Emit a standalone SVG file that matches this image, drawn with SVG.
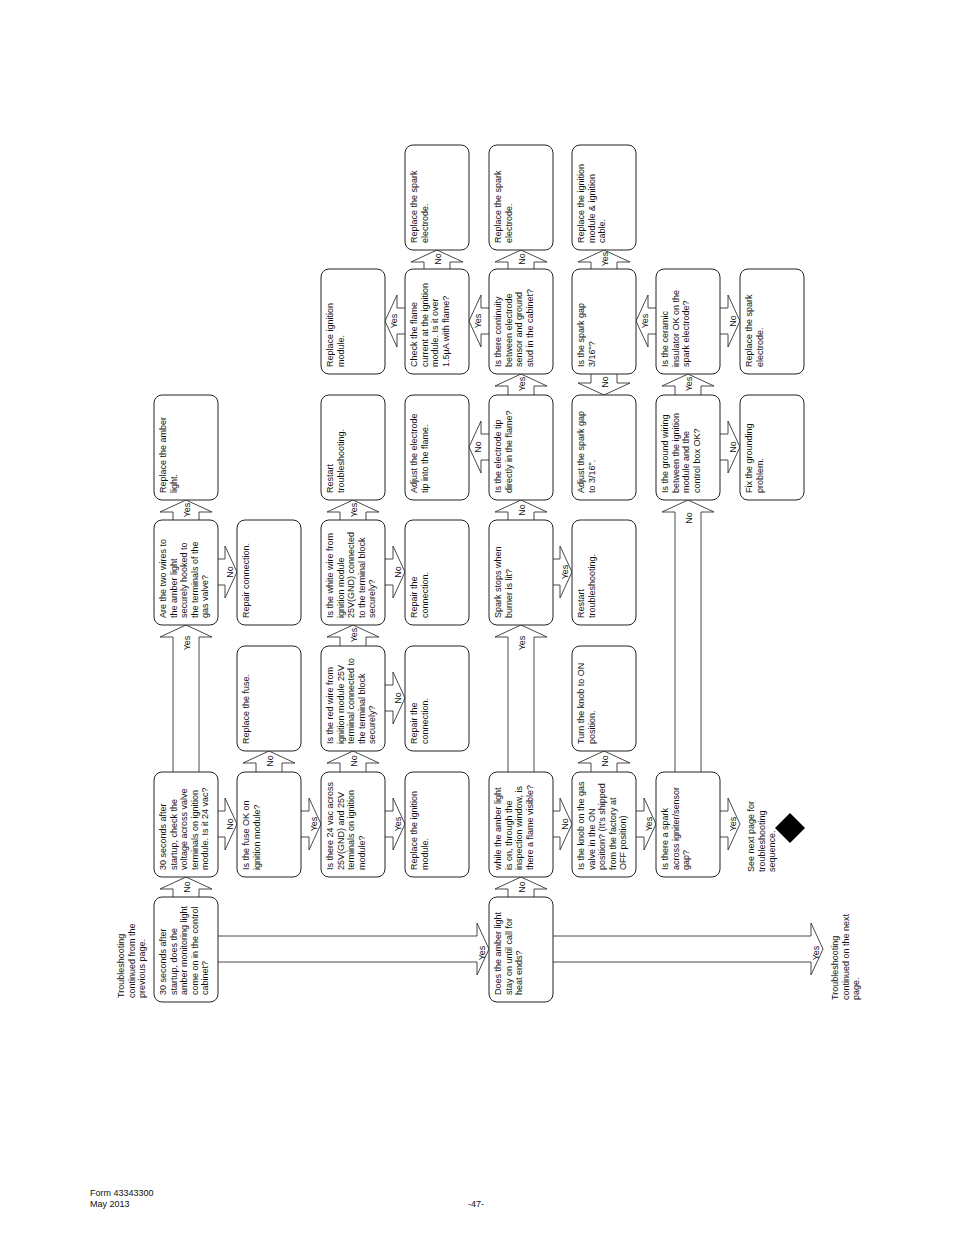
<svg xmlns="http://www.w3.org/2000/svg" width="954" height="1235" viewBox="0 0 954 1235">
<style>
text{font-family:"Liberation Sans",Arial,sans-serif;font-size:9px;fill:#111}
.box{fill:#fff;stroke:#222;stroke-width:1}
.ar{fill:#fff;stroke:#333;stroke-width:0.9}
.lb{text-anchor:middle}
</style>
<rect width="954" height="1235" fill="#fff"/>
<g id="connectors">
<path class="ar" d="M173 897V889H160L186 877L212 889H199V897"/>
<path class="ar" d="M173 772V637H160L186 625L212 637H199V772"/>
<path class="ar" d="M173 520V512H160L186 500L212 512H199V520"/>
<path class="ar" d="M256 772V763H243L269 751L295 763H282V772"/>
<path class="ar" d="M340 772V763H327L353 751L379 763H366V772"/>
<path class="ar" d="M340 646V637H327L353 625L379 637H366V646"/>
<path class="ar" d="M340 520V512H327L353 500L379 512H366V520"/>
<path class="ar" d="M508 897V889H495L521 877L547 889H534V897"/>
<path class="ar" d="M508 772V637H495L521 625L547 637H534V772"/>
<path class="ar" d="M508 520V512H495L521 500L547 512H534V520"/>
<path class="ar" d="M508 395V386H495L521 374L547 386H534V395"/>
<path class="ar" d="M508 269V262H495L521 250L547 262H534V269"/>
<path class="ar" d="M424 269V262H411L437 250L463 262H450V269"/>
<path class="ar" d="M591 772V763H578L604 751L630 763H617V772"/>
<path class="ar" d="M591 269V262H578L604 250L630 262H617V269"/>
<path class="ar" d="M675 772V512H662L688 500L714 512H701V772"/>
<path class="ar" d="M675 395V386H662L688 374L714 386H701V395"/>
<path class="ar" d="M591 374V383H578L604 395L630 383H617V374"/>
<path class="ar" d="M218 811H225V798L237 824L225 850V837H218"/>
<path class="ar" d="M301 811H309V798L321 824L309 850V837H301"/>
<path class="ar" d="M385 811H393V798L405 824L393 850V837H385"/>
<path class="ar" d="M218 559H225V546L237 572L225 598V585H218"/>
<path class="ar" d="M385 685H393V672L405 698L393 724V711H385"/>
<path class="ar" d="M385 559H393V546L405 572L393 598V585H385"/>
<path class="ar" d="M553 811H560V798L572 824L560 850V837H553"/>
<path class="ar" d="M636 811H644V798L656 824L644 850V837H636"/>
<path class="ar" d="M720 811H728V798L740 824L728 850V837H720"/>
<path class="ar" d="M553 559H560V546L572 572L560 598V585H553"/>
<path class="ar" d="M720 308H728V295L740 321L728 347V334H720"/>
<path class="ar" d="M720 434H728V421L740 447L728 473V460H720"/>
<path class="ar" d="M218 936H477V923L489 949L477 975V962H218"/>
<path class="ar" d="M553 936H811V923L823 949L811 975V962H553"/>
<path class="ar" d="M489 434H481V421L469 447L481 473V460H489"/>
<path class="ar" d="M405 308H397V295L385 321L397 347V334H405"/>
<path class="ar" d="M489 308H481V295L469 321L481 347V334H489"/>
<path class="ar" d="M656 308H648V295L636 321L648 347V334H656"/>
</g>
<g id="n_c1r7"><rect class="box" x="154" y="897" width="64" height="105" rx="8"/><text transform="translate(166,995) rotate(-90)"><tspan x="0" y="0">30 seconds after</tspan><tspan x="0" dy="10.6">startup, does the</tspan><tspan x="0" dy="10.6">amber monitoring light</tspan><tspan x="0" dy="10.6">come on in the control</tspan><tspan x="0" dy="10.6">cabinet?</tspan></text></g>
<g id="n_c1r6"><rect class="box" x="154" y="772" width="64" height="105" rx="8"/><text transform="translate(166,870) rotate(-90)"><tspan x="0" y="0">30 seconds after</tspan><tspan x="0" dy="10.6">startup, check the</tspan><tspan x="0" dy="10.6">voltage across valve</tspan><tspan x="0" dy="10.6">terminals on ignition</tspan><tspan x="0" dy="10.6">module. Is it 24 vac?</tspan></text></g>
<g id="n_c1r4"><rect class="box" x="154" y="520" width="64" height="105" rx="8"/><text transform="translate(166,618) rotate(-90)"><tspan x="0" y="0">Are the two wires to</tspan><tspan x="0" dy="10.6">the amber light</tspan><tspan x="0" dy="10.6">securely hooked to</tspan><tspan x="0" dy="10.6">the terminals of the</tspan><tspan x="0" dy="10.6">gas valve?</tspan></text></g>
<g id="n_c1r3"><rect class="box" x="154" y="395" width="64" height="105" rx="8"/><text transform="translate(166,493) rotate(-90)"><tspan x="0" y="0">Replace the amber</tspan><tspan x="0" dy="10.6">light.</tspan></text></g>
<g id="n_c2r6"><rect class="box" x="237" y="772" width="64" height="105" rx="8"/><text transform="translate(249,870) rotate(-90)"><tspan x="0" y="0">Is the fuse OK on</tspan><tspan x="0" dy="10.6">ignition module?</tspan></text></g>
<g id="n_c2r5"><rect class="box" x="237" y="646" width="64" height="105" rx="8"/><text transform="translate(249,744) rotate(-90)"><tspan x="0" y="0">Replace the fuse.</tspan></text></g>
<g id="n_c2r4"><rect class="box" x="237" y="520" width="64" height="105" rx="8"/><text transform="translate(249,618) rotate(-90)"><tspan x="0" y="0">Repair connection.</tspan></text></g>
<g id="n_c3r6"><rect class="box" x="321" y="772" width="64" height="105" rx="8"/><text transform="translate(333,870) rotate(-90)"><tspan x="0" y="0">Is there 24 vac across</tspan><tspan x="0" dy="10.6">25V(GND) and 25V</tspan><tspan x="0" dy="10.6">terminals on ignition</tspan><tspan x="0" dy="10.6">module?</tspan></text></g>
<g id="n_c3r5"><rect class="box" x="321" y="646" width="64" height="105" rx="8"/><text transform="translate(333,744) rotate(-90)"><tspan x="0" y="0">Is the red wire from</tspan><tspan x="0" dy="10.6">ignition module 25V</tspan><tspan x="0" dy="10.6">terminal connected to</tspan><tspan x="0" dy="10.6">the terminal block</tspan><tspan x="0" dy="10.6">securely?</tspan></text></g>
<g id="n_c3r4"><rect class="box" x="321" y="520" width="64" height="105" rx="8"/><text transform="translate(333,618) rotate(-90)"><tspan x="0" y="0">Is the white wire from</tspan><tspan x="0" dy="10.6">ignition module</tspan><tspan x="0" dy="10.6">25V(GND) connected</tspan><tspan x="0" dy="10.6">to the terminal block</tspan><tspan x="0" dy="10.6">securely?</tspan></text></g>
<g id="n_c3r3"><rect class="box" x="321" y="395" width="64" height="105" rx="8"/><text transform="translate(333,493) rotate(-90)"><tspan x="0" y="0">Restart</tspan><tspan x="0" dy="10.6">troubleshooting.</tspan></text></g>
<g id="n_c3r2"><rect class="box" x="321" y="269" width="64" height="105" rx="8"/><text transform="translate(333,367) rotate(-90)"><tspan x="0" y="0">Replace ignition</tspan><tspan x="0" dy="10.6">module.</tspan></text></g>
<g id="n_c4r6"><rect class="box" x="405" y="772" width="64" height="105" rx="8"/><text transform="translate(417,870) rotate(-90)"><tspan x="0" y="0">Replace the ignition</tspan><tspan x="0" dy="10.6">module.</tspan></text></g>
<g id="n_c4r5"><rect class="box" x="405" y="646" width="64" height="105" rx="8"/><text transform="translate(417,744) rotate(-90)"><tspan x="0" y="0">Repair the</tspan><tspan x="0" dy="10.6">connection.</tspan></text></g>
<g id="n_c4r4"><rect class="box" x="405" y="520" width="64" height="105" rx="8"/><text transform="translate(417,618) rotate(-90)"><tspan x="0" y="0">Repair the</tspan><tspan x="0" dy="10.6">connection.</tspan></text></g>
<g id="n_c4r3"><rect class="box" x="405" y="395" width="64" height="105" rx="8"/><text transform="translate(417,493) rotate(-90)"><tspan x="0" y="0">Adjust the electrode</tspan><tspan x="0" dy="10.6">tip into the flame.</tspan></text></g>
<g id="n_c4r2"><rect class="box" x="405" y="269" width="64" height="105" rx="8"/><text transform="translate(417,367) rotate(-90)"><tspan x="0" y="0">Check the flame</tspan><tspan x="0" dy="10.6">current at the ignition</tspan><tspan x="0" dy="10.6">module. Is it over</tspan><tspan x="0" dy="10.6">1.5µA with flame?</tspan></text></g>
<g id="n_c4r1"><rect class="box" x="405" y="145" width="64" height="105" rx="8"/><text transform="translate(417,243) rotate(-90)"><tspan x="0" y="0">Replace the spark</tspan><tspan x="0" dy="10.6">electrode.</tspan></text></g>
<g id="n_c5r7"><rect class="box" x="489" y="897" width="64" height="105" rx="8"/><text transform="translate(501,995) rotate(-90)"><tspan x="0" y="0">Does the amber light</tspan><tspan x="0" dy="10.6">stay on until call for</tspan><tspan x="0" dy="10.6">heat ends?</tspan></text></g>
<g id="n_c5r6"><rect class="box" x="489" y="772" width="64" height="105" rx="8"/><text transform="translate(501,870) rotate(-90)"><tspan x="0" y="0">while the amber light</tspan><tspan x="0" dy="10.6">is on, through the</tspan><tspan x="0" dy="10.6">inspection window, is</tspan><tspan x="0" dy="10.6">there a flame visible?</tspan></text></g>
<g id="n_c5r4"><rect class="box" x="489" y="520" width="64" height="105" rx="8"/><text transform="translate(501,618) rotate(-90)"><tspan x="0" y="0">Spark stops when</tspan><tspan x="0" dy="10.6">burner is lit?</tspan></text></g>
<g id="n_c5r3"><rect class="box" x="489" y="395" width="64" height="105" rx="8"/><text transform="translate(501,493) rotate(-90)"><tspan x="0" y="0">Is the electrode tip</tspan><tspan x="0" dy="10.6">directly in the flame?</tspan></text></g>
<g id="n_c5r2"><rect class="box" x="489" y="269" width="64" height="105" rx="8"/><text transform="translate(501,367) rotate(-90)"><tspan x="0" y="0">Is there continuity</tspan><tspan x="0" dy="10.6">between electrode</tspan><tspan x="0" dy="10.6">sensor and ground</tspan><tspan x="0" dy="10.6">stud in the cabinet?</tspan></text></g>
<g id="n_c5r1"><rect class="box" x="489" y="145" width="64" height="105" rx="8"/><text transform="translate(501,243) rotate(-90)"><tspan x="0" y="0">Replace the spark</tspan><tspan x="0" dy="10.6">electrode.</tspan></text></g>
<g id="n_c6r6"><rect class="box" x="572" y="772" width="64" height="105" rx="8"/><text transform="translate(584,870) rotate(-90)"><tspan x="0" y="0">Is the knob on the gas</tspan><tspan x="0" dy="10.6">valve in the ON</tspan><tspan x="0" dy="10.6">position? (It's shipped</tspan><tspan x="0" dy="10.6">from the factory at</tspan><tspan x="0" dy="10.6">OFF position)</tspan></text></g>
<g id="n_c6r5"><rect class="box" x="572" y="646" width="64" height="105" rx="8"/><text transform="translate(584,744) rotate(-90)"><tspan x="0" y="0">Turn the knob to ON</tspan><tspan x="0" dy="10.6">position.</tspan></text></g>
<g id="n_c6r4"><rect class="box" x="572" y="520" width="64" height="105" rx="8"/><text transform="translate(584,618) rotate(-90)"><tspan x="0" y="0">Restart</tspan><tspan x="0" dy="10.6">troubleshooting.</tspan></text></g>
<g id="n_c6r3"><rect class="box" x="572" y="395" width="64" height="105" rx="8"/><text transform="translate(584,493) rotate(-90)"><tspan x="0" y="0">Adjust the spark gap</tspan><tspan x="0" dy="10.6">to 3/16".</tspan></text></g>
<g id="n_c6r2"><rect class="box" x="572" y="269" width="64" height="105" rx="8"/><text transform="translate(584,367) rotate(-90)"><tspan x="0" y="0">Is the spark gap</tspan><tspan x="0" dy="10.6">3/16"?</tspan></text></g>
<g id="n_c6r1"><rect class="box" x="572" y="145" width="64" height="105" rx="8"/><text transform="translate(584,243) rotate(-90)"><tspan x="0" y="0">Replace the ignition</tspan><tspan x="0" dy="10.6">module &amp; ignition</tspan><tspan x="0" dy="10.6">cable.</tspan></text></g>
<g id="n_c7r6"><rect class="box" x="656" y="772" width="64" height="105" rx="8"/><text transform="translate(668,870) rotate(-90)"><tspan x="0" y="0">Is there a spark</tspan><tspan x="0" dy="10.6">across igniter/sensor</tspan><tspan x="0" dy="10.6">gap?</tspan></text></g>
<g id="n_c7r3"><rect class="box" x="656" y="395" width="64" height="105" rx="8"/><text transform="translate(668,493) rotate(-90)"><tspan x="0" y="0">Is the ground wiring</tspan><tspan x="0" dy="10.6">between the ignition</tspan><tspan x="0" dy="10.6">module and the</tspan><tspan x="0" dy="10.6">control box OK?</tspan></text></g>
<g id="n_c7r2"><rect class="box" x="656" y="269" width="64" height="105" rx="8"/><text transform="translate(668,367) rotate(-90)"><tspan x="0" y="0">Is the ceramic</tspan><tspan x="0" dy="10.6">insulator OK on the</tspan><tspan x="0" dy="10.6">spark electrode?</tspan></text></g>
<g id="n_c8r3"><rect class="box" x="740" y="395" width="64" height="105" rx="8"/><text transform="translate(752,493) rotate(-90)"><tspan x="0" y="0">Fix the grounding</tspan><tspan x="0" dy="10.6">problem.</tspan></text></g>
<g id="n_c8r2"><rect class="box" x="740" y="269" width="64" height="105" rx="8"/><text transform="translate(752,367) rotate(-90)"><tspan x="0" y="0">Replace the spark</tspan><tspan x="0" dy="10.6">electrode.</tspan></text></g>
<g id="n_nextseq"><text transform="translate(754,872) rotate(-90)"><tspan x="0" y="0">See next page for</tspan><tspan x="0" dy="10.6">troubleshooting</tspan><tspan x="0" dy="10.6">sequence.</tspan></text><polygon points="790,813 805,828 790,843 775,828" fill="#000"/></g>
<g id="n_prev"><text transform="translate(124,998) rotate(-90)"><tspan x="0" y="0">Troubleshooting</tspan><tspan x="0" dy="10.6">continued from the</tspan><tspan x="0" dy="10.6">previous page.</tspan></text></g>
<g id="n_next"><text transform="translate(838,1000) rotate(-90)"><tspan x="0" y="0">Troubleshooting</tspan><tspan x="0" dy="10.6">continued on the next</tspan><tspan x="0" dy="10.6">page.</tspan></text></g>
<g id="connector-labels">
<text class="lb" transform="translate(190,887) rotate(-90)">No</text>
<text class="lb" transform="translate(190,643) rotate(-90)">Yes</text>
<text class="lb" transform="translate(190,510) rotate(-90)">Yes</text>
<text class="lb" transform="translate(273,761) rotate(-90)">No</text>
<text class="lb" transform="translate(357,761) rotate(-90)">No</text>
<text class="lb" transform="translate(357,635) rotate(-90)">Yes</text>
<text class="lb" transform="translate(357,510) rotate(-90)">Yes</text>
<text class="lb" transform="translate(525,887) rotate(-90)">No</text>
<text class="lb" transform="translate(525,643) rotate(-90)">Yes</text>
<text class="lb" transform="translate(525,510) rotate(-90)">No</text>
<text class="lb" transform="translate(525,384) rotate(-90)">Yes</text>
<text class="lb" transform="translate(525,259) rotate(-90)">No</text>
<text class="lb" transform="translate(441,259) rotate(-90)">No</text>
<text class="lb" transform="translate(608,761) rotate(-90)">No</text>
<text class="lb" transform="translate(608,259) rotate(-90)">Yes</text>
<text class="lb" transform="translate(692,518) rotate(-90)">No</text>
<text class="lb" transform="translate(692,384) rotate(-90)">Yes</text>
<text class="lb" transform="translate(608,382) rotate(-90)">No</text>
<text class="lb" transform="translate(233,824) rotate(-90)">No</text>
<text class="lb" transform="translate(317,824) rotate(-90)">Yes</text>
<text class="lb" transform="translate(401,824) rotate(-90)">Yes</text>
<text class="lb" transform="translate(233,572) rotate(-90)">No</text>
<text class="lb" transform="translate(401,698) rotate(-90)">No</text>
<text class="lb" transform="translate(401,572) rotate(-90)">No</text>
<text class="lb" transform="translate(568,824) rotate(-90)">No</text>
<text class="lb" transform="translate(652,824) rotate(-90)">Yes</text>
<text class="lb" transform="translate(736,824) rotate(-90)">Yes</text>
<text class="lb" transform="translate(568,572) rotate(-90)">Yes</text>
<text class="lb" transform="translate(736,321) rotate(-90)">No</text>
<text class="lb" transform="translate(736,447) rotate(-90)">No</text>
<text class="lb" transform="translate(485,953) rotate(-90)">Yes</text>
<text class="lb" transform="translate(819,953) rotate(-90)">Yes</text>
<text class="lb" transform="translate(481,447) rotate(-90)">No</text>
<text class="lb" transform="translate(397,321) rotate(-90)">Yes</text>
<text class="lb" transform="translate(481,321) rotate(-90)">Yes</text>
<text class="lb" transform="translate(648,321) rotate(-90)">Yes</text>
</g>
<g id="footer"><text x="90" y="1196">Form 43343300</text><text x="90" y="1207">May 2013</text><text x="468" y="1207">-47-</text></g>
</svg>
